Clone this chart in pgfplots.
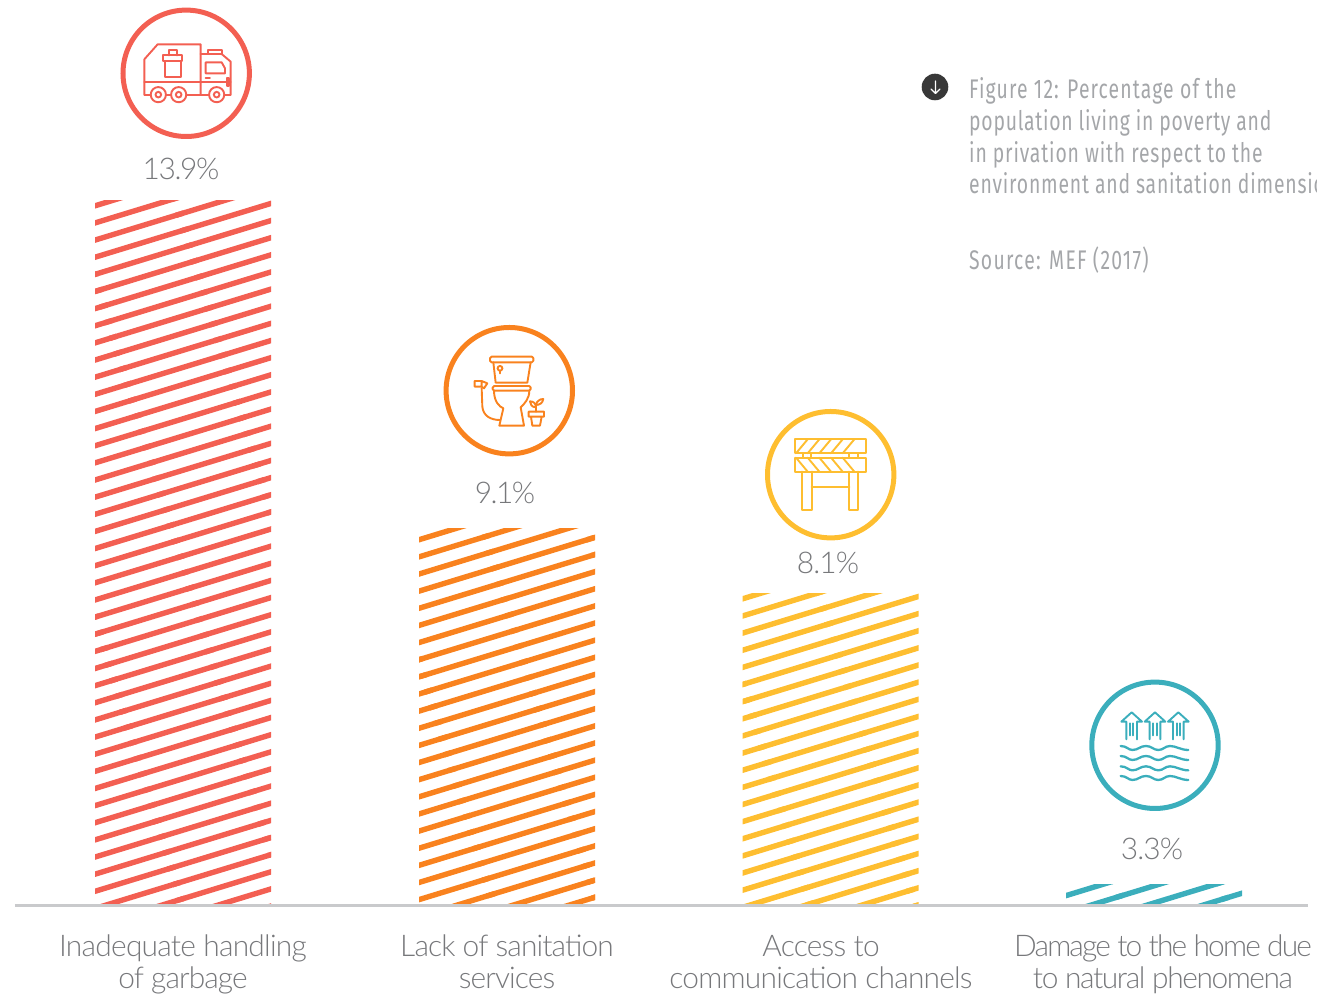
\documentclass[border=0pt]{standalone}
\usepackage{fontspec}
\usepackage{pgfplots}
\pgfplotsset{compat=1.18}
\usetikzlibrary{patterns.meta}
\setmainfont{Lato}[UprightFont=* Light]
\newfontfamily\capfont{Fira Sans}[FakeStretch=0.72]
\definecolor{cred}{HTML}{F35F52}
\definecolor{corange}{HTML}{F9821E}
\definecolor{cyellow}{HTML}{FEBE30}
\definecolor{cteal}{HTML}{3BAEBC}
\definecolor{ctext}{HTML}{77787B}
\definecolor{ccap}{HTML}{A4A6A9}
\definecolor{cbase}{HTML}{C9CACC}
\newcommand{\declstripe}[2]{\tikzdeclarepattern{
  name=#1,
  bounding box={(-4pt,-4pt) and (104pt,4pt)},
  tile size={(100pt,16.45pt)},
  tile transformation={shift={(0pt,#2)},rotate=17},
  code={\draw[line width=5.42pt,line cap=butt] (-4pt,0pt) -- (104pt,0pt);}
}}
\declstripe{StripeA}{6.12pt}
\declstripe{StripeB}{1.55pt}
\declstripe{StripeC}{14.95pt}
\declstripe{StripeD}{13.45pt}
\tikzset{icon/.style n args={2}{shift={(-15bp+#1bp,905bp-#2bp)},x=.33333bp,y=-.33333bp,line width=1.9bp,line join=round,line cap=round}}
\newcommand{\ls}[2]{{\addfontfeature{LetterSpace=#1}#2}}
\newcommand{\vlab}[4]{\node[text=ctext,font=\fontsize{30}{32}\selectfont] at (axis cs:#1,#2) {\ls{#4}{#3}};}
\newcommand{\capline}[4]{\node[anchor=base west,inner sep=0pt,text=ccap,font=\capfont\fontsize{27}{30}\selectfont] at (axis cs:#1,#2) {\ls{#4}{#3}};}
\begin{document}
\begin{tikzpicture}
\path[use as bounding box] (-15bp,-90bp) rectangle (1302bp,905bp);
\clip (-15bp,-90bp) rectangle (1302bp,905bp);
\begin{axis}[
  at={(0,0)},anchor=south west,scale only axis,
  width=1293bp,height=905bp,
  xmin=15,xmax=1308,ymin=0,ymax=905,
  clip=false,
  axis x line*=bottom,axis y line=none,
  axis line style={-,draw=none},
  ytick=\empty,major tick length=0pt,
  xtick={183,507,821,1163},
  xticklabels={{\ls{-2.5}{Inadequate handling}\\\ls{-3}{of garbage}},{\ls{-3}{Lack of sanitation}\\\ls{-3}{services}},{\ls{-2.6}{Access to}\\\ls{-2.6}{communication channels}},{\ls{-6.1}{Damage to the home due}\\\ls{-4.7}{to natural phenomena}}},
  xticklabel style={align=center,text=ctext,anchor=north,yshift=-30bp,inner sep=0pt,font=\fontsize{30}{32}\selectfont},
  ybar,bar width=176,bar shift=0pt,
]
% bar heights as drawn in the reference (its bars are not to the scale of the printed percentages)
\addplot[draw=none,pattern={StripeA},pattern color=cred] coordinates {(183,704)};
\addplot[draw=none,pattern={StripeB},pattern color=corange] coordinates {(507,376)};
\addplot[draw=none,pattern={StripeC},pattern color=cyellow] coordinates {(830.5,311)};
\addplot[draw=none,pattern={StripeD},pattern color=cteal] coordinates {(1154,21)};
\addplot[sharp plot,no marks,draw=cbase,line width=2.8bp] coordinates {(15,-0.4)(1308,-0.4)};
\vlab{181}{736}{13.9\%}{-4.6}
\vlab{505}{412}{9.1\%}{-5}
\vlab{828}{342}{8.1\%}{-3}
\vlab{1152}{56}{3.3\%}{-3}
\capline{969}{806.5}{Figure 12: Percentage of the}{4.2}
\capline{969}{774.5}{population living in poverty and}{2.8}
\capline{969}{742.5}{in privation with respect to the}{3.2}
\capline{969}{711}{environment and sanitation dimension}{3}
\capline{969}{635.5}{Source: MEF (2017)}{4.6}
\end{axis}
% circles
\begin{scope}[shift={(-15bp,905bp)},x=1bp,y=-1bp,line width=5bp]
\draw[cred] (186.2,73.3) circle[radius=63.2bp];
\draw[corange] (509.3,390.7) circle[radius=63.2bp];
\draw[cyellow] (830.7,474.7) circle[radius=63.2bp];
\draw[cteal] (1155,745.3) circle[radius=63.2bp];
\fill[black!78] (935,87) circle[radius=13.3bp];
\draw[white,line width=1.1bp,line cap=round,line join=round] (935.5,81)--(935.5,93) (931,89)--(935.5,93.5)--(940,89);
\end{scope}
% truck
\begin{scope}[icon={80}{0}]
\draw[cred] (193,285)--(193,178)--(233,133)--(362,133)--(362,285)--cycle;
\draw[cred] (193,247)--(452,247);
\draw[cred] (362,162)--(425,162)--(452,185)--(452,285)--(362,285);
\draw[cred] (377,187)--(425,187)--(435,205)--(435,220)--(377,220)--cycle;
\draw[cred] (377,235)--(390,235);
\draw[cred] (385,162)--(385,150)--(427,150)--(427,162);
\draw[cred] (440,235)--(447,235)--(447,258)--(440,258)--cycle;
\draw[cred] (255,184)--(255,232)--(302,232)--(302,184);
\draw[cred] (250,166)--(307,166)--(307,184)--(250,184)--cycle;
\draw[cred] (268,166)--(268,150)--(290,150)--(290,166);
\foreach \c in {235,296,410}{
 \draw[cred,fill=white] (\c,284) circle[radius=7.6bp];
 \draw[cred,fill=white] (\c,284) circle[radius=2.8bp];}
\end{scope}
% toilet
\begin{scope}[icon={400}{320}]
\draw[corange,rounded corners=1.5bp] (270,110) rectangle (400,127);
\draw[corange] (280,127)--(287,188)--(382,188)--(392,127);
\draw[corange] (300,145) circle[radius=2.4bp] (300,153)--(300,160);
\draw[corange,rounded corners=1.5bp] (278,198) rectangle (392,212);
\draw[corange] (282,212) .. controls (282,245) and (298,260) .. (310,265) -- (298,317) -- (372,317) -- (362,262) .. controls (375,250) and (388,235) .. (388,212);
\draw[corange] (245,205)--(247,260) .. controls (250,290) and (275,300) .. (300,300);
\draw[corange] (224,183) rectangle (245,200) (245,183)--(262,190)--(252,205)--(245,200);
\draw[corange] (386,275) rectangle (432,290) (393,290)--(397,317)--(420,317)--(425,290);
\draw[corange] (408,275)--(408,252);
\draw[corange] (408,262) .. controls (395,262) and (390,252) .. (390,244) .. controls (400,244) and (408,250) .. (408,262);
\draw[corange] (408,255) .. controls (410,243) and (420,237) .. (430,237) .. controls (428,250) and (418,255) .. (408,255);
\end{scope}
% barrier
\begin{scope}[icon={730}{400}]
\draw[cyellow] (195,118) rectangle (408,160) (195,173) rectangle (408,215);
\draw[cyellow] (220,160)--(220,173) (243,160)--(243,173) (358,160)--(358,173) (385,160)--(385,173);
\draw[cyellow] (217,215)--(217,330)--(245,330)--(245,215) (358,215)--(358,330)--(385,330)--(385,215) (245,260)--(358,260);
\foreach \s in {198,233,268,303,338}{
 \draw[cyellow] (\s,160)--(\s+35,118);
 \draw[cyellow] (\s,173)--(\s+35,215);}
\end{scope}
% flood
\begin{scope}[icon={1050}{670}]
\foreach \c in {245,315,385}{
 \draw[cteal] (\c-16,208)--(\c-16,155)--(\c-31,155)--(\c,127)--(\c+31,155)--(\c+16,155)--(\c+16,208);
 \draw[cteal] (\c-5,160)--(\c-5,196) (\c+5,160)--(\c+5,196);
}
\foreach \y in {228,258,289,318}{
 \draw[cteal,line width=2.3bp] (212,\y) .. controls (230,\y) and (235,\y+12) .. (247,\y+12) .. controls (265,\y+12) and (270,\y) .. (288,\y) .. controls (305,\y) and (310,\y+12) .. (325,\y+12) .. controls (340,\y+12) and (345,\y) .. (360,\y) .. controls (378,\y) and (392,\y+12) .. (415,\y+12);
}
\end{scope}
\end{tikzpicture}
\end{document}
